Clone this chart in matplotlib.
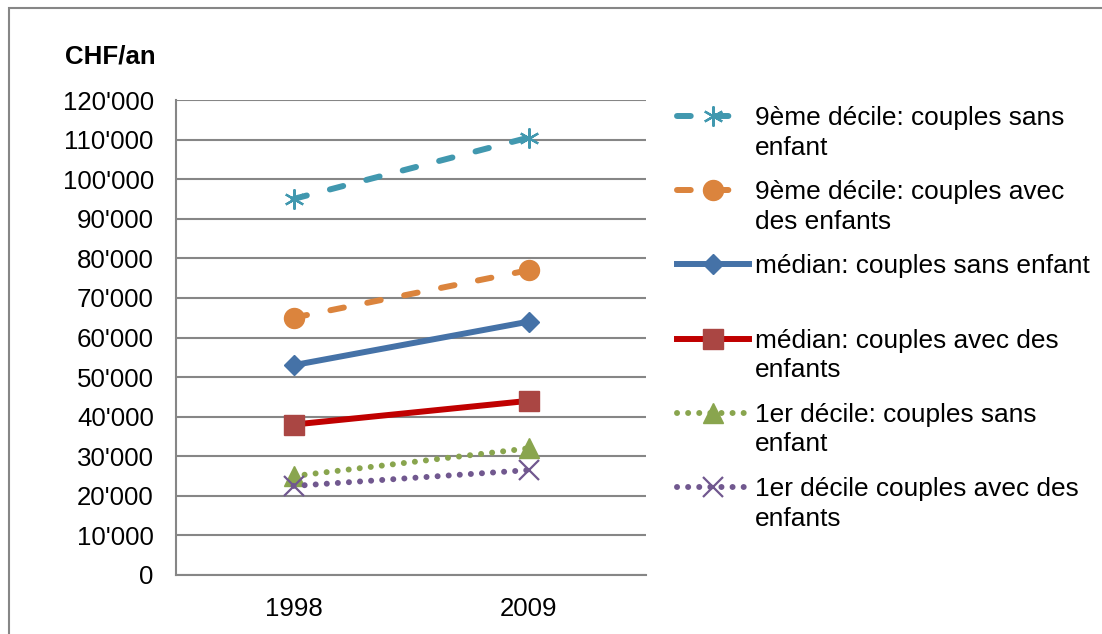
import numpy as np
import matplotlib
matplotlib.use('Agg')
import matplotlib.pyplot as plt
from matplotlib.ticker import FuncFormatter, MultipleLocator
from matplotlib.legend_handler import HandlerLine2D
from matplotlib.patches import Rectangle

plt.rcParams['font.family'] = ['Liberation Sans', 'DejaVu Sans']

# data
years = ['1998', '2009']
d9_sans = [95000, 110500]
d9_avec = [65000, 77000]
med_sans = [53000, 64000]
med_avec = [38000, 44000]
d1_sans = [25000, 32000]
d1_avec = [22500, 26500]

labels = ['9ème décile: couples sans\nenfant',
          '9ème décile: couples avec\ndes enfants',
          'médian: couples sans enfant\n ',
          'médian: couples avec des\nenfants',
          '1er décile: couples sans\nenfant',
          '1er décile couples avec des\nenfants']


# legend handler that puts the handle next to the first text line (like Excel)
class HandlerFirstLine(HandlerLine2D):
    def __init__(self, shift=0.65, **kw):
        super().__init__(**kw)
        self.shift = shift

    def create_artists(self, legend, orig_handle, xdescent, ydescent, width, height, fontsize, trans):
        arts = super().create_artists(legend, orig_handle, xdescent, ydescent, width, height, fontsize, trans)
        for a in arts:
            a.set_ydata(np.asarray(a.get_ydata(), dtype=float) + self.shift * fontsize)
        return arts


fs = 18.6
fs_leg = 18.9
f = plt.figure(figsize=(11.02, 6.34), dpi=100)
ax = f.add_axes([176/1102, 1 - 575/634, 470/1102, 475/634])

x = np.arange(len(years))
lw = 4.3
ms = 14.4

l1, = ax.plot(x, d9_sans, color='#4198AF', lw=lw, ls=(0, (2.3, 4.0)), dash_capstyle='round',
              marker=(6, 2, 0), ms=ms, mew=1.6, mec='#4198AF')
l2, = ax.plot(x, d9_avec, color='#DB843D', lw=lw, ls=(0, (2.3, 4.0)), dash_capstyle='round',
              marker='o', ms=ms, mec='#DB843D', mfc='#DB843D')
l3, = ax.plot(x, med_sans, color='#4572A7', lw=lw, marker='D', ms=10.2, mec='#4572A7', mfc='#4572A7')
l4, = ax.plot(x, med_avec, color='#C00000', lw=lw, marker='s', ms=ms, mec='#AA4643', mfc='#AA4643')
l5, = ax.plot(x, d1_sans, color='#89A54E', lw=lw, ls=(0, (0.01, 1.85)), dash_capstyle='round',
              marker='^', ms=ms, mec='#89A54E', mfc='#89A54E')
l6, = ax.plot(x, d1_avec, color='#71588F', lw=lw, ls=(0, (0.01, 1.85)), dash_capstyle='round',
              marker='x', ms=ms, mew=1.6, mec='#71588F')

ax.set_xlim(-0.5, 1.5)
ax.set_ylim(0, 120000)
ax.set_xticks(x)
ax.set_xticklabels(years)
ax.yaxis.set_major_locator(MultipleLocator(10000))
ax.yaxis.set_major_formatter(FuncFormatter(lambda v, p: f"{int(v):,}".replace(',', "'")))
ax.tick_params(length=0, labelsize=fs, colors='black')
ax.tick_params(axis='y', pad=16)
ax.tick_params(axis='x', pad=16)
ax.grid(axis='y', color='#868686', lw=1.5)
ax.set_axisbelow(True)
for s in ['top', 'right']:
    ax.spines[s].set_visible(False)
for s in ['left', 'bottom']:
    ax.spines[s].set_color('#868686')
    ax.spines[s].set_linewidth(1.5)

f.text(65/1102, 1 - 56/634, 'CHF/an', fontsize=fs, fontweight='bold', va='center', ha='left')

leg = f.legend([l1, l2, l3, l4, l5, l6], labels, loc='upper left',
               bbox_to_anchor=(677/1102, 1 - 106/634), frameon=False, fontsize=fs_leg,
               handlelength=2.75, handletextpad=0.22, labelspacing=0.78, borderpad=0,
               borderaxespad=0, handler_map={matplotlib.lines.Line2D: HandlerFirstLine()})
for t in leg.get_texts():
    t.set_linespacing(1.3)

# outer chart border (cut off at right and bottom in the original)
f.patches.append(Rectangle((9/1102, -0.1), 1.2, 1.1 - 8/634, transform=f.transFigure,
                           fill=False, edgecolor='#868686', lw=1.5))

f.savefig('out.png', dpi=100)
